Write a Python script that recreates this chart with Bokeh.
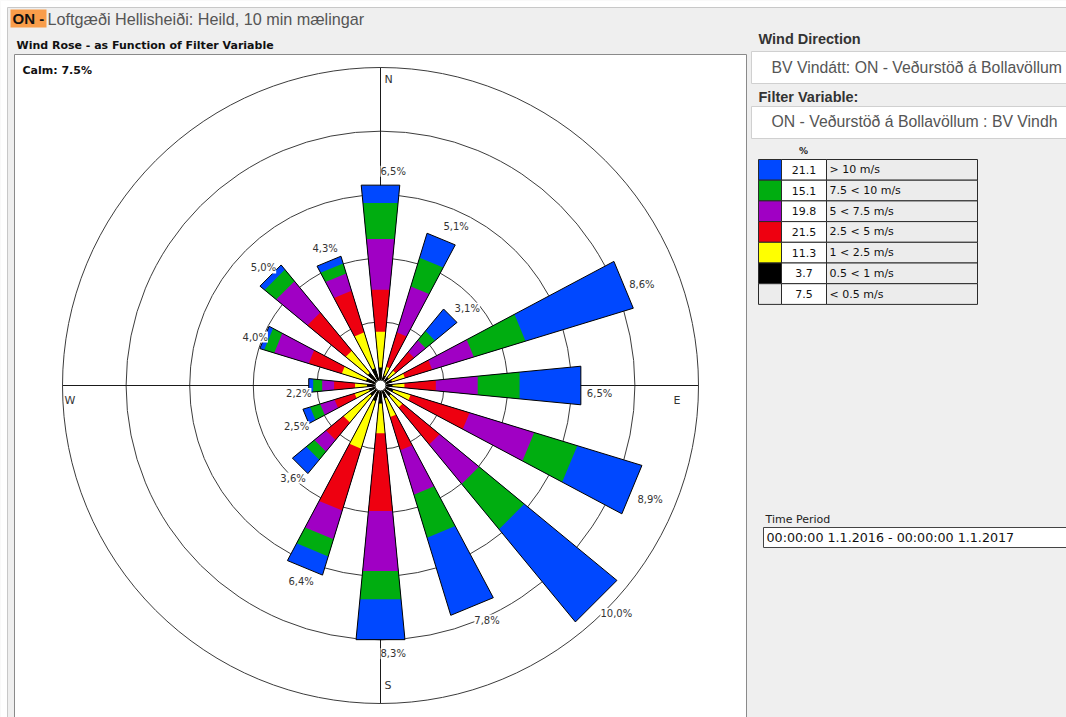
import numpy as np
from bokeh.plotting import figure
from bokeh.models import Range1d, ColumnDataSource, LabelSet
from bokeh.embed import file_html
from bokeh.resources import INLINE
from bokeh.core.properties import value

W, H = 1066, 717

# ---------------- data ----------------
directions = ["N", "NNE", "NE", "ENE", "E", "ESE", "SE", "SSE",
              "S", "SSW", "SW", "WSW", "W", "WNW", "NW", "NNW"]
# frequency (%) of each speed class per direction (inner -> outer)
freq_05_1  = [0.40, 0.15, 0.15, 0.20, 0.20, 0.25, 0.25, 0.25, 0.40, 0.35, 0.25, 0.20, 0.25, 0.30, 0.35, 0.40]
freq_1_25  = [1.20, 0.30, 0.30, 0.45, 0.40, 0.60, 0.50, 0.65, 1.00, 1.65, 1.15, 0.50, 0.40, 0.85, 0.95, 1.25]
freq_25_5  = [1.40, 1.20, 0.80, 0.95, 1.05, 2.05, 1.60, 1.15, 2.60, 2.15, 0.75, 0.70, 0.70, 1.15, 1.65, 1.45]
freq_5_75  = [1.70, 1.60, 0.50, 1.45, 1.40, 2.25, 1.70, 1.55, 2.00, 1.00, 0.50, 0.50, 0.40, 1.20, 1.35, 0.60]
freq_75_10 = [1.20, 1.00, 0.40, 1.80, 1.40, 1.50, 1.95, 1.50, 0.95, 0.60, 0.35, 0.35, 0.30, 0.35, 0.50, 0.35]
freq_gt_10 = [0.60, 0.85, 0.95, 3.75, 2.05, 2.25, 4.00, 2.70, 1.35, 0.65, 0.60, 0.25, 0.15, 0.15, 0.20, 0.25]
class_colors = ["#000000", "#ffff00", "#ee0010", "#a000c4", "#00ad10", "#0048ff"]

calm_pct = 7.5
legend_pct = [21.1, 15.1, 19.8, 21.5, 11.3, 3.7, 7.5]
legend_labels = ["> 10 m/s", "7.5 < 10 m/s", "5 < 7.5 m/s", "2.5 < 5 m/s",
                 "1 < 2.5 m/s", "0.5 < 1 m/s", "< 0.5 m/s"]
legend_colors = ["#0048ff", "#00ad10", "#a000c4", "#ee0010", "#ffff00", "#000000", "#ececec"]

compass = ["N", "E", "S", "W"]
title_tag = "ON -"
title_text = "Loftgæði Hellisheiði: Heild, 10 min mælingar"
panel_title = "Wind Rose - as Function of Filter Variable"
wind_dir_label = "Wind Direction"
wind_dir_value = "BV Vindátt: ON - Veðurstöð á Bollavöllum"
filter_label = "Filter Variable:"
filter_value = "ON - Veðurstöð á Bollavöllum : BV Vindh"
time_label = "Time Period"
time_value = "00:00:00 1.1.2016 - 00:00:00 1.1.2017"


def Y(ys):
    return H - ys


p = figure(width=W, height=H, x_range=Range1d(0, W), y_range=Range1d(0, H),
           toolbar_location=None, output_backend="svg", min_border=0,
           x_axis_location=None, y_axis_location=None, title=None,
           background_fill_color="#efefef", border_fill_color="#efefef",
           outline_line_color=None)
p.grid.visible = False

DJ = value("DejaVu Sans")
LIB = value("Liberation Sans")

# page edges
p.quad(left=[0, 0], right=[W, 7], top=[H, H], bottom=[Y(7), 0], fill_color="white", line_color=None)
p.segment(x0=[7, 7], y0=[Y(7), Y(7)], x1=[W, 7], y1=[Y(7), 0], line_color="#c8c8c8", line_width=1)

# title
p.quad(left=10, right=46, top=Y(9), bottom=Y(27), fill_color="#f99d4a", line_color=None)
p.text(x=[12], y=[Y(18)], text=[title_tag], text_font=LIB, text_font_size="15px",
       text_font_style="bold", text_color="#111111", text_baseline="middle")
p.text(x=[47], y=[Y(18)], text=[title_text], text_font=LIB, text_font_size="16.2px",
       text_color="#555555", text_baseline="middle")

# chart panel
p.text(x=[16], y=[Y(45)], text=[panel_title], text_font=DJ, text_font_size="11px",
       text_font_style="bold", text_color="#111111", text_baseline="middle")
p.quad(left=14, right=746, top=Y(54), bottom=-10, fill_color="white",
       line_color="#8a8a8a", line_width=1)
p.text(x=[22], y=[Y(70)], text=[f"Calm: {calm_pct}%"], text_font=DJ, text_font_size="11px",
       text_font_style="bold", text_color="#111111", text_baseline="middle")

# ---------------- wind rose ----------------
cx, cy_s = 380.0, 385.0
cy = Y(cy_s)
R0, K = 6.0, 29.9            # px offset and px per percent
HW = np.deg2rad(5.5)         # half width of a bar
RING = 63.6
R5 = 5 * RING

p.circle(x=[cx] * 5, y=[cy] * 5, radius=[RING * n for n in range(1, 6)],
         fill_color=None, line_color="#3c3c3c", line_width=1)
p.segment(x0=[cx - R5, cx], y0=[cy, cy - R5], x1=[cx + R5, cx], y1=[cy, cy + R5],
          line_color="#1a1a1a", line_width=1)

classes = np.array([freq_05_1, freq_1_25, freq_25_5, freq_5_75, freq_75_10, freq_gt_10])
cum = np.cumsum(classes, axis=0)
theta = np.deg2rad(np.arange(len(directions)) * 22.5)


def trap(r1, r2, th):
    ux, uy = np.sin(th), np.cos(th)
    vx, vy = np.cos(th), -np.sin(th)
    t = np.tan(HW)
    pts = ((r1, -1), (r2, -1), (r2, 1), (r1, 1))
    xs = [cx + r * ux + s * r * t * vx for r, s in pts]
    ys = [cy + r * uy + s * r * t * vy for r, s in pts]
    return xs, ys


seg_xs, seg_ys, seg_col = [], [], []
for c in range(classes.shape[0] - 1, -1, -1):
    for i, th in enumerate(theta):
        xs, ys = trap(R0, R0 + K * cum[c, i], th)
        seg_xs.append(xs)
        seg_ys.append(ys)
        seg_col.append(class_colors[c])
p.patches(seg_xs, seg_ys, fill_color=seg_col, line_color=None)

out_xs, out_ys = [], []
for i, th in enumerate(theta):
    xs, ys = trap(R0, R0 + K * cum[-1, i], th)
    out_xs.append(xs)
    out_ys.append(ys)
p.patches(out_xs, out_ys, fill_color=None, line_color="black", line_width=1)

p.circle(x=[cx], y=[cy], radius=5.5, fill_color="white", line_color="black", line_width=1)

# percentage labels
tot = cum[-1]
ux = np.sin(theta)
uy_s = -np.cos(theta)
r_end = R0 + K * tot
ex = cx + r_end * ux
ey = cy_s + r_end * uy_s
right = ux >= -0.01
lx = np.where(right, ex + 6 * ux, ex + 10 * ux)
ly = Y(ey + 8 + np.where(uy_s < 0, 22, 6) * uy_s)
txt = [f"{t:.1f}".replace(".", ",") + "%" for t in tot]
src_l = ColumnDataSource(dict(x=lx[right], y=ly[right], t=[t for t, r in zip(txt, right) if r]))
src_c = ColumnDataSource(dict(x=lx[~right], y=ly[~right], t=[t for t, r in zip(txt, right) if not r]))
for src, al in ((src_l, "left"), (src_c, "center")):
    p.add_layout(LabelSet(x="x", y="y", text="t", source=src, text_align=al,
                          text_baseline="middle", text_font=DJ, text_font_size="10px",
                          text_color="#333333", background_fill_color="white"))

# compass letters
p.text(x=[cx + 4, cx + R5 - 25, cx + 4, cx - R5 + 2],
       y=[Y(cy_s - R5 + 12), Y(cy_s + 15), Y(cy_s + R5 - 18), Y(cy_s + 15)],
       text=compass, text_font=DJ, text_font_size="11px", text_color="#333333",
       text_align="left", text_baseline="middle")

# ---------------- right panel ----------------
p.text(x=[758, 758], y=[Y(38), Y(96)], text=[wind_dir_label, filter_label], text_font=LIB,
       text_font_size="14.5px", text_font_style="bold", text_color="#333333",
       text_baseline="middle")
p.quad(left=[751, 751], right=[1080, 1080], top=[Y(51), Y(106)], bottom=[Y(83), Y(138)],
       fill_color="white", line_color="#d0d0d0", line_width=1)
p.text(x=[771, 771], y=[Y(67), Y(121)], text=[wind_dir_value, filter_value], text_font=LIB,
       text_font_size="15.8px", text_color="#555555", text_baseline="middle")

# legend table
row_h = 20.7
top0 = 159.0
n = len(legend_pct)
tops = [Y(top0 + i * row_h) for i in range(n)]
bots = [Y(top0 + (i + 1) * row_h) for i in range(n)]
mids = [Y(top0 + (i + 0.5) * row_h) for i in range(n)]
p.quad(left=758, right=781, top=tops, bottom=bots, fill_color=legend_colors,
       line_color="#2a2a2a", line_width=1)
p.quad(left=781, right=826, top=tops, bottom=bots, fill_color="white",
       line_color="#2a2a2a", line_width=1)
p.quad(left=826, right=977, top=tops, bottom=bots, fill_color="#ececec",
       line_color="#2a2a2a", line_width=1)
p.text(x=[803.5] * n, y=mids, text=[f"{v:.1f}" for v in legend_pct], text_font=DJ,
       text_font_size="11px", text_color="#111111", text_align="center", text_baseline="middle")
p.text(x=[829] * n, y=mids, text=legend_labels, text_font=DJ,
       text_font_size="11px", text_color="#111111", text_baseline="middle")
p.text(x=[803], y=[Y(150)], text=["%"], text_font=DJ, text_font_size="9px",
       text_font_style="bold", text_color="#222222", text_align="center", text_baseline="middle")

# time period
p.text(x=[765], y=[Y(519)], text=[time_label], text_font=DJ, text_font_size="11px",
       text_color="#222222", text_baseline="middle")
p.quad(left=763, right=1080, top=Y(527), bottom=Y(547), fill_color="white",
       line_color="#444444", line_width=1)
p.text(x=[766], y=[Y(537)], text=[time_value], text_font=DJ, text_font_size="12.7px",
       text_color="#111111", text_baseline="middle")

open("out.html", "w").write(file_html(p, INLINE))
